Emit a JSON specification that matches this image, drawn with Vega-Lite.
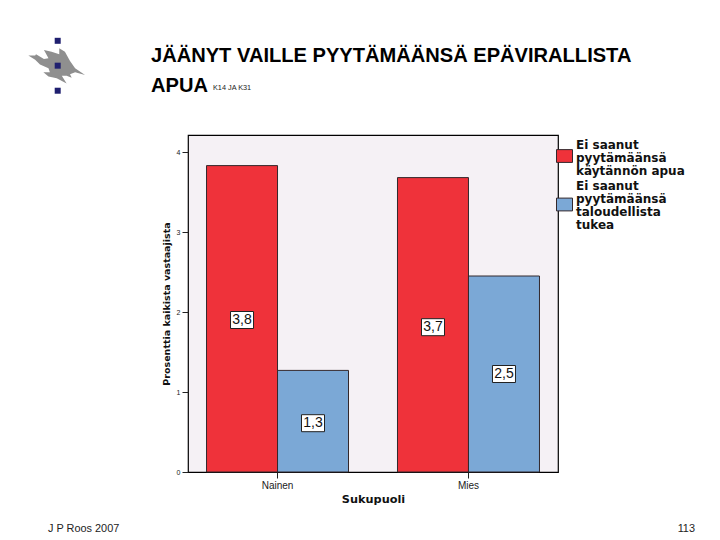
{
"$schema":"https://vega.github.io/schema/vega-lite/v6.json",
"width":370,"height":337,
"autosize":{"type":"none"},
"padding":{"left":188,"top":135,"right":162,"bottom":68},
"background":"white",
"title":{"text":["JÄÄNYT VAILLE PYYTÄMÄÄNSÄ EPÄVIRALLISTA","APUA"],"anchor":"start","frame":"group","dx":-37,"dy":58,"offset":0,"font":"Liberation Sans","fontSize":20.1,"fontWeight":"bold","lineHeight":30,"color":"#000000"},
"config":{"view":{"fill":"#F5F1F5","stroke":"#000000","strokeWidth":1.2}},
"data":{"values":[
{"Sukupuoli":"Nainen","Tyyppi":"Ei saanut pyytämäänsä käytännön apua","Prosentti":3.83,"Keskikohta":1.9,"Nimi":"3,8"},
{"Sukupuoli":"Nainen","Tyyppi":"Ei saanut pyytämäänsä taloudellista tukea","Prosentti":1.27,"Keskikohta":0.61,"Nimi":"1,3"},
{"Sukupuoli":"Mies","Tyyppi":"Ei saanut pyytämäänsä käytännön apua","Prosentti":3.68,"Keskikohta":1.81,"Nimi":"3,7"},
{"Sukupuoli":"Mies","Tyyppi":"Ei saanut pyytämäänsä taloudellista tukea","Prosentti":2.45,"Keskikohta":1.225,"Nimi":"2,5"}
]},
"resolve":{"scale":{"x":"independent"}},
"layer":[
{
"encoding":{
"x":{"field":"Sukupuoli","type":"nominal","sort":["Nainen","Mies"],"scale":{"paddingInner":0.2565,"paddingOuter":0.097},"axis":{"title":"Sukupuoli","titleFont":"DejaVu Sans","titleFontSize":11.3,"titleFontWeight":"bold","titleColor":"#111111","titlePadding":3,"labelFont":"Liberation Sans","labelFontSize":10,"labelAngle":0,"labelColor":"#222222","labelPadding":2,"tickSize":6,"tickColor":"#222222","domain":false}},
"xOffset":{"field":"Tyyppi","type":"nominal","sort":["Ei saanut pyytämäänsä käytännön apua","Ei saanut pyytämäänsä taloudellista tukea"],"scale":{"paddingInner":0,"paddingOuter":0}}
},
"layer":[
{"mark":{"type":"bar","stroke":"#33282c","strokeWidth":1},
"encoding":{
"y":{"field":"Prosentti","type":"quantitative","scale":{"domain":[0,4.2125],"nice":false,"zero":false},"axis":{"title":"Prosenttia kaikista vastaajista","titleFont":"DejaVu Sans","titleFontSize":9.5,"titleFontWeight":"bold","titleColor":"#111111","titlePadding":5,"values":[0,1,2,3,4],"format":"d","labelFont":"Liberation Sans","labelFontSize":7,"labelColor":"#222222","labelPadding":2,"tickSize":6,"tickColor":"#222222","grid":false,"domain":false}},
"color":{"field":"Tyyppi","type":"nominal","scale":{"domain":["Ei saanut pyytämäänsä käytännön apua","Ei saanut pyytämäänsä taloudellista tukea"],"range":["#EF323A","#7BA8D6"]},
"legend":{"title":null,"orient":"none","legendX":368,"legendY":1,"symbolSize":256,"symbolStrokeColor":"#33282c","symbolStrokeWidth":1,"symbolOpacity":1,"labelFont":"DejaVu Sans","labelFontSize":12,"labelFontWeight":"bold","labelColor":"#111111","labelLimit":200,"labelOffset":3,"rowPadding":-2,
"labelExpr":"datum.label == 'Ei saanut pyytämäänsä käytännön apua' ? ['Ei saanut','pyytämäänsä','käytännön apua'] : ['Ei saanut','pyytämäänsä','taloudellista','tukea']",
"encode":{"labels":{"update":{"lineHeight":{"value":13}}},"symbols":{"update":{"shape":{"signal":"datum.value == 'Ei saanut pyytämäänsä käytännön apua' ? 'M-1,0.64H1V2.24H-1Z' : 'M-1,1.575H1V3.175H-1Z'"}}}}}}
}},
{"mark":{"type":"point","shape":"M-1.15,-0.85H1.15V0.85H-1.15Z","filled":true,"fill":"#FFFFFF","stroke":"#222222","strokeWidth":1,"opacity":1,"size":400},
"encoding":{"y":{"field":"Keskikohta","type":"quantitative"}}},
{"mark":{"type":"text","font":"Liberation Sans","fontSize":14,"color":"#111111"},
"encoding":{"y":{"field":"Keskikohta","type":"quantitative"},"text":{"field":"Nimi","type":"nominal"}}}
]
},
{
"encoding":{"x":{"datum":0,"type":"quantitative","scale":{"domain":[0,370],"nice":false,"zero":false},"axis":null}},
"layer":[
{"data":{"values":[{}]},"mark":{"type":"text","text":"K14 JA K31","font":"Liberation Sans","fontSize":7.3,"align":"left","color":"#222222"},"encoding":{"x":{"datum":25},"y":{"datum":4.8}}},
{"data":{"values":[{}]},"mark":{"type":"text","text":"J P Roos 2007","font":"Liberation Sans","fontSize":10.9,"align":"left","color":"#222222"},"encoding":{"x":{"datum":-140},"y":{"datum":-0.7125}}},
{"data":{"values":[{}]},"mark":{"type":"text","text":"113","font":"Liberation Sans","fontSize":10.9,"align":"right","color":"#222222"},"encoding":{"x":{"datum":507},"y":{"datum":-0.7125}}},
{"data":{"values":[{}]},"mark":{"type":"point","shape":"M-1,-0.33L-0.76,-0.33L-0.73,-0.38L-0.45,-0.21L-0.29,-0.24L-0.45,-0.53L-0.18,-0.47L0.09,-0.38L0.09,-0.59L0.29,-0.47L0.47,-0.14L0.65,0.12L1,0.35L0.65,0.26L0.47,0.33L0.53,0.45L0.35,0.38L0.18,0.38L0.35,0.65L0,0.47L-0.29,0.41L-0.47,0.26L-0.24,0.26L-0.29,0.12L-0.59,-0.02L-0.76,-0.18Z","filled":true,"fill":"#8F8F8F","opacity":1,"size":3211},"encoding":{"x":{"datum":-131.3},"y":{"datum":5.088}}},
{"data":{"values":[{}]},"mark":{"type":"square","fill":"#1F1F6F","opacity":1,"size":36},"encoding":{"x":{"datum":-130.3},"y":{"datum":5.39}}},
{"data":{"values":[{}]},"mark":{"type":"square","fill":"#1F1F6F","opacity":1,"size":36},"encoding":{"x":{"datum":-130.3},"y":{"datum":5.079}}},
{"data":{"values":[{}]},"mark":{"type":"square","fill":"#1F1F6F","opacity":1,"size":36},"encoding":{"x":{"datum":-130.3},"y":{"datum":4.766}}}
]
}
]
}
